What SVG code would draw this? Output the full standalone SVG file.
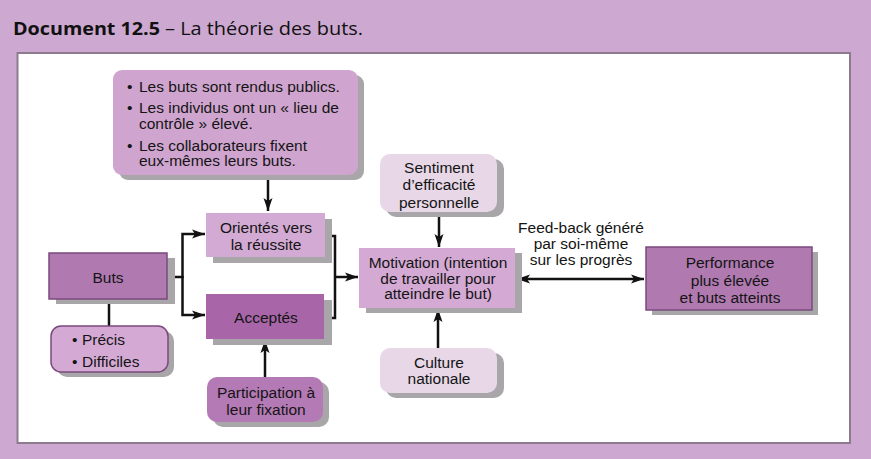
<svg xmlns="http://www.w3.org/2000/svg" width="871" height="459" viewBox="0 0 871 459">
<defs>
<marker id="ah" markerUnits="userSpaceOnUse" markerWidth="14" markerHeight="10" refX="13" refY="5" orient="auto-start-reverse">
<path d="M0,0.5 L13,5 L0,9.5 L3,5 Z" fill="#111"/>
</marker>
</defs>
<style>
.t{font-family:"Liberation Sans",Arial,sans-serif;font-size:15.5px;fill:#141414}
.m{text-anchor:middle}
.sh{fill:#a8a6a8}
.c{fill:none;stroke:#111;stroke-width:2.5}
</style>
<rect x="0" y="0" width="871" height="459" fill="#cda8d0"/>
<text x="13" y="35" font-family="'Open Sans','Noto Sans',sans-serif" font-size="18" font-weight="bold" fill="#111" textLength="147" lengthAdjust="spacingAndGlyphs">Document 12.5</text>
<text x="165" y="35" font-family="'Open Sans','Noto Sans',sans-serif" font-size="18" fill="#111" textLength="198" lengthAdjust="spacingAndGlyphs">– La théorie des buts.</text>
<rect x="17.5" y="53" width="832.5" height="390" fill="#ffffff" stroke="#8e7a8f" stroke-width="2"/>

<g id="connectors">
<path class="c" d="M268,175 V211" marker-end="url(#ah)"/>
<path class="c" d="M167,277 H182.5 V234 H205" marker-end="url(#ah)"/>
<path class="c" d="M182.5,276 V315 H205" marker-end="url(#ah)"/>
<path class="c" d="M325,236 H335 V318 H324"/>
<path class="c" d="M335,277 H358" marker-end="url(#ah)"/>
<path class="c" d="M109,299 V326"/>
<path class="c" d="M265,377 V340" marker-end="url(#ah)"/>
<path class="c" d="M439,212 V247" marker-end="url(#ah)"/>
<path class="c" d="M438,348 V309" marker-end="url(#ah)"/>
<path class="c" d="M517,279 H644" marker-start="url(#ah)" marker-end="url(#ah)"/>
</g>

<g id="conditions">
<rect class="sh" x="119" y="75" width="245" height="105" rx="9"/>
<rect x="113" y="70" width="245" height="105" rx="9" fill="#cfa5cf"/>
<text class="t" x="127" y="92">•</text><text class="t" x="139" y="92">Les buts sont rendus publics.</text>
<text class="t" x="127" y="113">•</text><text class="t" x="139" y="113">Les individus ont un « lieu de</text>
<text class="t" x="139" y="128.5">contrôle » élevé.</text>
<text class="t" x="127" y="150.5">•</text><text class="t" x="139" y="150.5">Les collaborateurs fixent</text>
<text class="t" x="139" y="166">eux-mêmes leurs buts.</text>
</g>

<g id="orientes">
<rect class="sh" x="213" y="219" width="119" height="44"/>
<rect x="206" y="213" width="119" height="44" fill="#d3aad3"/>
<text class="t m" x="266" y="232.5">Orientés vers</text>
<text class="t m" x="266" y="250">la réussite</text>
</g>

<g id="acceptes">
<rect class="sh" x="213" y="300" width="119" height="45"/>
<rect x="206" y="294" width="118" height="45" fill="#a866a9"/>
<text class="t m" x="266" y="323">Acceptés</text>
</g>

<g id="buts">
<rect class="sh" x="56" y="258" width="119" height="46"/>
<rect x="49" y="253" width="118" height="46" fill="#b07ab1" stroke="#7a4a7c" stroke-width="1.5"/>
<text class="t m" x="108" y="283">Buts</text>
</g>

<g id="precis">
<rect class="sh" x="57" y="331" width="117" height="46" rx="10"/>
<rect x="51" y="326" width="117" height="46" rx="10" fill="#d4aad4" stroke="#7a4a7c" stroke-width="1.5"/>
<text class="t" x="72" y="345">•</text><text class="t" x="82" y="345">Précis</text>
<text class="t" x="72" y="367">•</text><text class="t" x="82" y="367">Difficiles</text>
</g>

<g id="participation">
<rect class="sh" x="213" y="382" width="116" height="45" rx="10"/>
<rect x="207" y="377" width="116" height="45" rx="10" fill="#b47ab6"/>
<text class="t m" x="266" y="398">Participation à</text>
<text class="t m" x="266" y="415">leur fixation</text>
</g>

<g id="sentiment">
<rect class="sh" x="386" y="159" width="118" height="58" rx="10"/>
<rect x="380" y="154" width="117" height="58" rx="10" fill="#e7d7e7"/>
<text class="t m" x="439" y="173">Sentiment</text>
<text class="t m" x="439" y="190">d’efficacité</text>
<text class="t m" x="439" y="207.5">personnelle</text>
</g>

<g id="motivation">
<rect class="sh" x="366" y="253" width="156" height="60"/>
<rect x="359" y="248" width="156" height="60" fill="#d4aad4"/>
<text class="t m" x="438" y="268">Motivation (intention</text>
<text class="t m" x="438" y="283.5">de travailler pour</text>
<text class="t m" x="438" y="299">atteindre le but)</text>
</g>

<g id="culture">
<rect class="sh" x="386" y="353" width="118" height="45" rx="10"/>
<rect x="380" y="348" width="117" height="45" rx="10" fill="#e7d7e7"/>
<text class="t m" x="439" y="368">Culture</text>
<text class="t m" x="439" y="384">nationale</text>
</g>

<g id="feedback">
<text class="t m" x="581" y="233">Feed-back généré</text>
<text class="t m" x="581" y="249">par soi-même</text>
<text class="t m" x="581" y="265">sur les progrès</text>
</g>

<g id="performance">
<rect class="sh" x="652" y="252" width="166" height="63"/>
<rect x="646" y="247" width="166" height="63" fill="#b07ab1" stroke="#7a4a7c" stroke-width="1.5"/>
<text class="t m" x="730" y="268">Performance</text>
<text class="t m" x="730" y="286">plus élevée</text>
<text class="t m" x="730" y="303">et buts atteints</text>
</g>
</svg>
